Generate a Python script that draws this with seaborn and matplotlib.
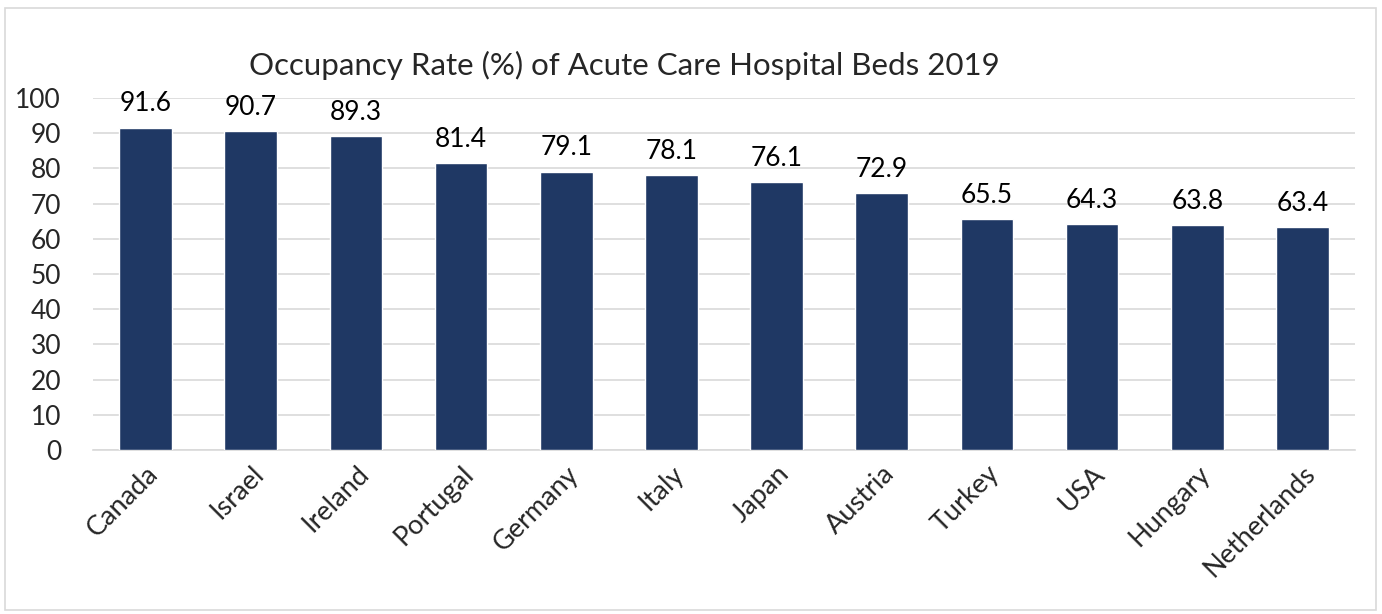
import matplotlib
matplotlib.use("Agg")
import matplotlib.pyplot as plt
import seaborn as sns
import pandas as pd
from matplotlib.patches import Rectangle

# data
countries = ['Canada', 'Israel', 'Ireland', 'Portugal', 'Germany', 'Italy',
             'Japan', 'Austria', 'Turkey', 'USA', 'Hungary', 'Netherlands']
occupancy = [91.6, 90.7, 89.3, 81.4, 79.1, 78.1, 76.1, 72.9, 65.5, 64.3, 63.8, 63.4]
y_ticks = [0, 10, 20, 30, 40, 50, 60, 70, 80, 90, 100]

df = pd.DataFrame({'country': countries, 'occupancy': occupancy})

sns.set_theme(style='white')
plt.rcParams['font.family'] = ['Lato', 'DejaVu Sans']

fig = plt.figure(figsize=(13.82, 6.14), dpi=100)
ax = fig.add_axes([0.0673, 0.2671, 0.9132, 0.5733])

sns.barplot(data=df, x='country', y='occupancy', color='#1F3864',
            saturation=1, width=0.5, ax=ax, zorder=3)

ax.set_ylim(0, 100)
ax.set_yticks(y_ticks)
ax.set_xlim(-0.5, len(countries) - 0.5)
ax.grid(axis='y', color='#D9D9D9', linewidth=1.2, zorder=0)
for s in ['top', 'right', 'left']:
    ax.spines[s].set_visible(False)
ax.spines['bottom'].set_color('#D9D9D9')
ax.spines['bottom'].set_linewidth(1.2)
ax.set_xlabel('')
ax.set_ylabel('')
ax.tick_params(axis='y', labelsize=19, length=0, pad=23)
ax.tick_params(axis='x', labelsize=19.5, length=0, pad=8)
plt.setp(ax.get_yticklabels(), ha='right')
plt.setp(ax.get_xticklabels(), rotation=45, ha='right', rotation_mode='anchor')

for i, v in enumerate(occupancy):
    ax.annotate(f'{v}', (i, v), xytext=(0, 8), textcoords='offset points',
                ha='center', va='bottom', fontsize=19, color='black')

fig.text(0.452, 0.893, 'Occupancy Rate (%) of Acute Care Hospital Beds 2019',
         ha='center', va='center', fontsize=22.5)

fig.patches.append(Rectangle((5 / 1382, 4 / 614), 1371 / 1382, 602 / 614,
                             transform=fig.transFigure, fill=False,
                             edgecolor='#D9D9D9', linewidth=1.2))

plt.savefig('out.png', dpi=100)
